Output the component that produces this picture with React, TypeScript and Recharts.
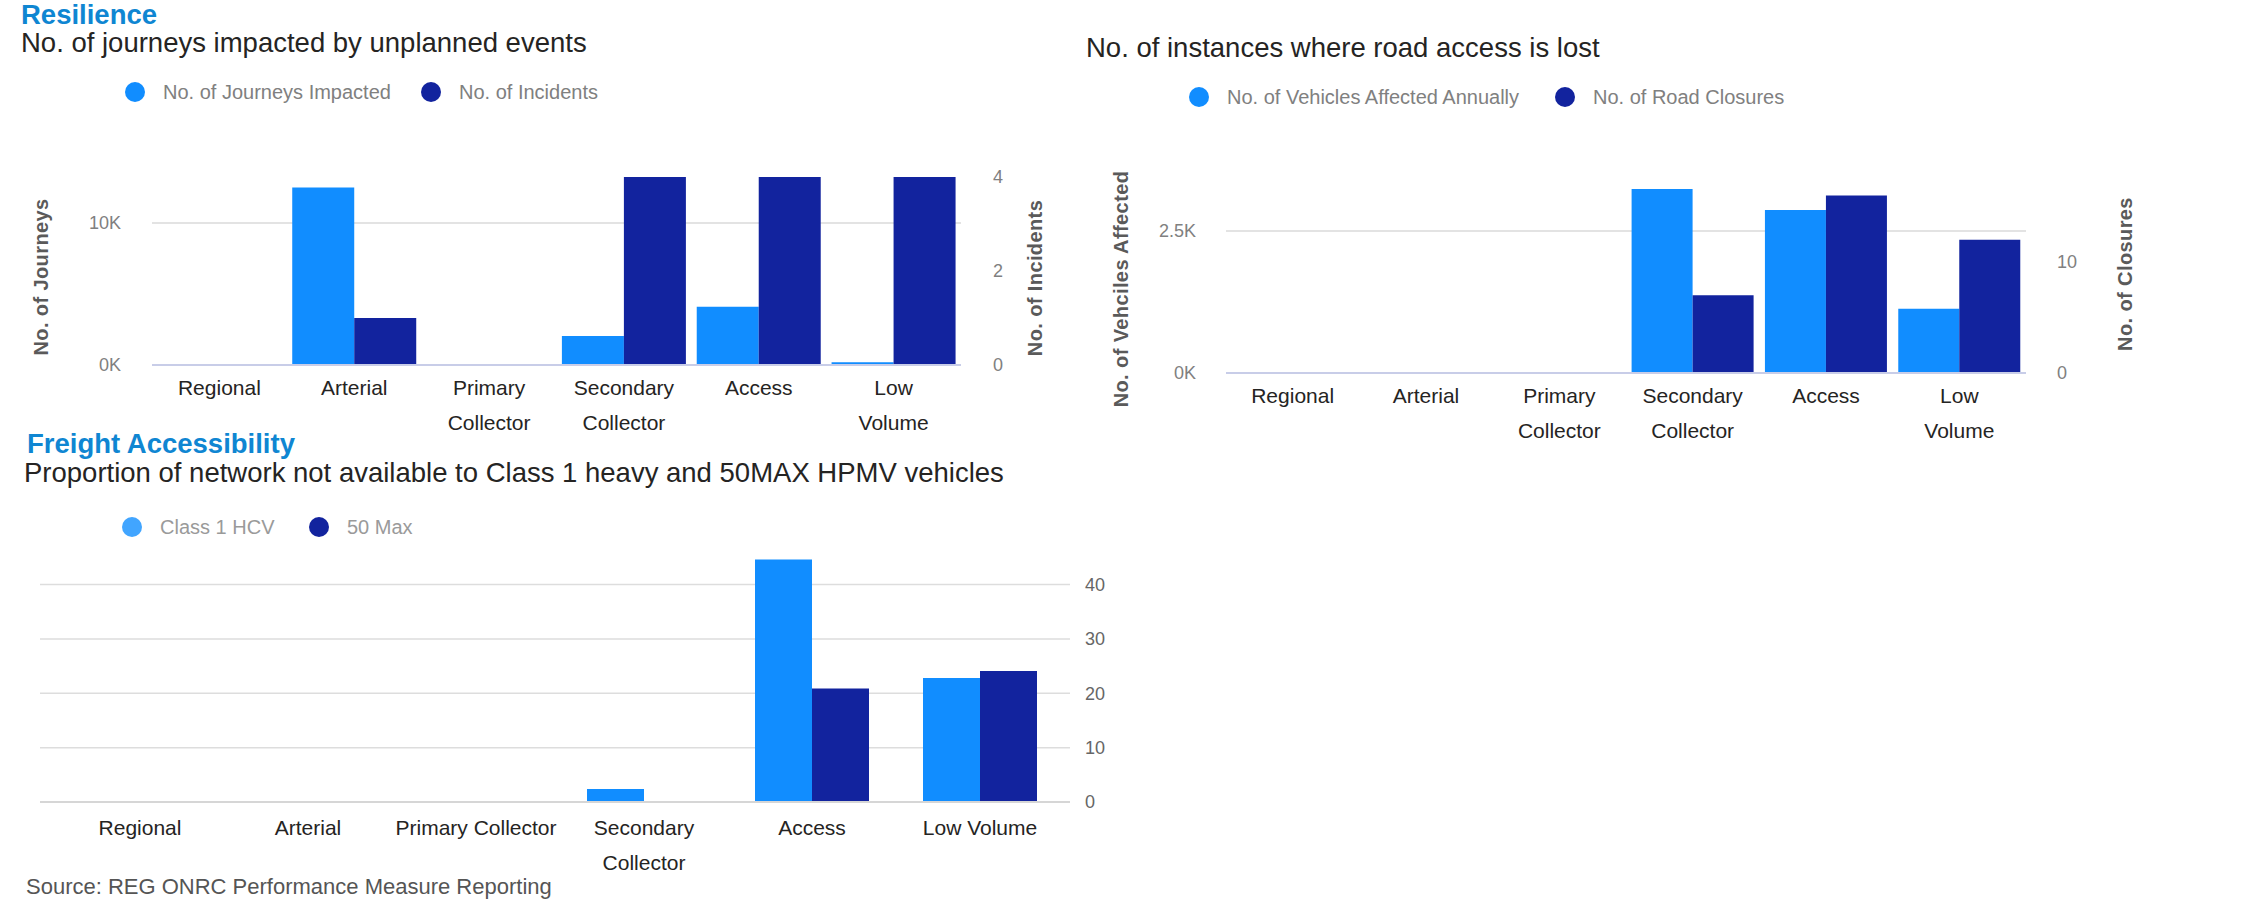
import React from 'react';
import { BarChart, Bar, XAxis, YAxis, CartesianGrid } from 'recharts';

// road classes shared by all three charts
const categories = ['Regional', 'Arterial', 'Primary Collector', 'Secondary Collector', 'Access', 'Low Volume'];

// Resilience: journeys impacted (left axis) / incidents (right axis)
const journeysImpacted = [0, 12500, 0, 2050, 4100, 200];
const incidentCounts = [0, 1, 0, 4, 4, 4];

// Road access lost: vehicles affected (left) / road closures (right)
const vehiclesAffected = [0, 0, 0, 3240, 2870, 1130];
const roadClosures = [0, 0, 0, 7, 16, 12];

// Freight accessibility (% of network)
const class1Hcv = [0, 0, 0, 2.4, 44.6, 22.8];
const max50 = [0, 0, 0, 0, 20.9, 24.1];

const journeyTicks = [0, 10000];
const incidentTicks = [0, 2, 4];
const vehicleTicks = [0, 2500];
const closureTicks = [0, 10];
const freightTicks = [0, 10, 20, 30, 40];

const journeyMax = 13240;
const vehicleMax = 3310;
const freightMax = 46;

const FONT = '"Liberation Sans", Arial, sans-serif';
const LIGHT = '#118DFF';
const DARK = '#12239E';
const TITLE_BLUE = '#0F86D2';

const resilienceData = categories.map((name, i) => ({
  name,
  journeys: journeysImpacted[i],
  incidents: incidentCounts[i],
}));
const accessData = categories.map((name, i) => ({
  name,
  vehicles: vehiclesAffected[i],
  closures: roadClosures[i],
}));
const freightData = categories.map((name, i) => ({
  name,
  hcv: class1Hcv[i],
  max50: max50[i],
}));

const kFormat = (v: number) => (v === 0 ? '0K' : `${v / 1000}K`);

const splitWords = (s: string) => s.split(' ');
const splitLong = (s: string) => (s.length > 17 ? s.split(' ') : [s]);

// grid lines only at the given tick values (no line at the top of the plot)
const gridAt = (ticks: number[], max: number) => (props: any) => {
  const s = props.yAxis && props.yAxis.scale;
  if (typeof s === 'function') return ticks.map((t) => s(t));
  const { top, height } = props.offset;
  return ticks.map((t) => top + height * (1 - t / max));
};

const makeTick = (offset: number, wrap: (s: string) => string[]) => (props: any) => {
  const { x, y, payload } = props;
  const lines = wrap(String(payload.value));
  return (
    <text x={x} y={y + offset} textAnchor="middle" fontSize={21} fill="#252423" fontFamily={FONT}>
      {lines.map((l, i) => (
        <tspan key={l} x={x} dy={i === 0 ? 0 : 35}>
          {l}
        </tspan>
      ))}
    </text>
  );
};

const yTick = { fill: '#808080', fontSize: 18 };

type LegendEntry = { cx: number; cy: number; color: string; label: string };

const LegendRow = ({ items, textColor }: { items: LegendEntry[]; textColor: string }) => (
  <g>
    {items.map((it) => (
      <g key={it.label}>
        <circle cx={it.cx} cy={it.cy} r={10} fill={it.color} />
        <text x={it.cx + 28} y={it.cy + 7} fontSize={20} fill={textColor}>
          {it.label}
        </text>
      </g>
    ))}
  </g>
);

const AxisTitle = ({ x, y, text }: { x: number; y: number; text: string }) => (
  <text
    x={x}
    y={y}
    transform={`rotate(-90 ${x} ${y})`}
    textAnchor="middle"
    fontSize={20}
    fontWeight="bold"
    letterSpacing={0.4}
    fill="#5a5a5a"
  >
    {text}
  </text>
);

export default function App() {
  return (
    <div
      style={{
        position: 'absolute',
        left: 0,
        top: 0,
        width: 2244,
        height: 905,
        background: '#ffffff',
        fontFamily: FONT,
      }}
    >
      <svg width={2244} height={905} style={{ position: 'absolute', left: 0, top: 0 }} fontFamily={FONT}>
        {/* chart 1 headings */}
        <text x={21} y={24} fontSize={27.5} fontWeight="bold" fill={TITLE_BLUE}>
          Resilience
        </text>
        <text x={21} y={52} fontSize={27.5} fill="#252423">
          No. of journeys impacted by unplanned events
        </text>
        <LegendRow
          textColor="#808080"
          items={[
            { cx: 135, cy: 92, color: LIGHT, label: 'No. of Journeys Impacted' },
            { cx: 431, cy: 92, color: DARK, label: 'No. of Incidents' },
          ]}
        />
        <AxisTitle x={48} y={277} text="No. of Journeys" />
        <AxisTitle x={1042} y={278} text="No. of Incidents" />

        {/* chart 2 headings */}
        <text x={1086} y={57} fontSize={27.5} fill="#252423">
          No. of instances where road access is lost
        </text>
        <LegendRow
          textColor="#808080"
          items={[
            { cx: 1199, cy: 97, color: LIGHT, label: 'No. of Vehicles Affected Annually' },
            { cx: 1565, cy: 97, color: DARK, label: 'No. of Road Closures' },
          ]}
        />
        <AxisTitle x={1128} y={289} text="No. of Vehciles Affected" />
        <AxisTitle x={2132} y={274} text="No. of Closures" />

        {/* chart 3 headings */}
        <text x={27} y={453} fontSize={27.5} fontWeight="bold" fill={TITLE_BLUE}>
          Freight Accessibility
        </text>
        <text x={24} y={482} fontSize={27.5} fill="#252423">
          Proportion of network not available to Class 1 heavy and 50MAX HPMV vehicles
        </text>
        <LegendRow
          textColor="#9a9a9a"
          items={[
            { cx: 132, cy: 527, color: '#41A5FF', label: 'Class 1 HCV' },
            { cx: 319, cy: 527, color: DARK, label: '50 Max' },
          ]}
        />
        <text x={26} y={894} fontSize={22} fill="#555555">
          Source: REG ONRC Performance Measure Reporting
        </text>
      </svg>

      <div style={{ position: 'absolute', left: 0, top: 150 }}>
        <BarChart
          width={1080}
          height={300}
          data={resilienceData}
          margin={{ top: 27, right: 39, bottom: 25, left: 0 }}
          barCategoryGap={5.4}
          barGap={0}
        >
          <CartesianGrid
            yAxisId="left"
            vertical={false}
            stroke="#e3e3e3"
            strokeWidth={2}
            horizontalCoordinatesGenerator={gridAt(journeyTicks, journeyMax)}
          />
          <XAxis
            dataKey="name"
            interval={0}
            height={60}
            tickLine={false}
            tickSize={0}
            tickMargin={0}
            axisLine={{ stroke: '#c8cde8', strokeWidth: 2 }}
            tick={makeTick(30, splitWords)}
          />
          <YAxis
            yAxisId="left"
            width={152}
            domain={[0, journeyMax]}
            ticks={journeyTicks}
            tickFormatter={kFormat}
            axisLine={false}
            tickLine={false}
            tickSize={0}
            tickMargin={31}
            tick={yTick}
          />
          <YAxis
            yAxisId="right"
            orientation="right"
            width={80}
            domain={[0, 4]}
            ticks={incidentTicks}
            axisLine={false}
            tickLine={false}
            tickSize={0}
            tickMargin={32}
            tick={yTick}
          />
          <Bar yAxisId="left" dataKey="journeys" name="No. of Journeys Impacted" fill={LIGHT} isAnimationActive={false} />
          <Bar yAxisId="right" dataKey="incidents" name="No. of Incidents" fill={DARK} isAnimationActive={false} />
        </BarChart>
      </div>

      <div style={{ position: 'absolute', left: 1080, top: 150 }}>
        <BarChart
          width={1164}
          height={310}
          data={accessData}
          margin={{ top: 35, right: 138, bottom: 27, left: 0 }}
          barCategoryGap={5.6}
          barGap={0}
        >
          <CartesianGrid
            yAxisId="left"
            vertical={false}
            stroke="#e3e3e3"
            strokeWidth={2}
            horizontalCoordinatesGenerator={gridAt(vehicleTicks, vehicleMax)}
          />
          <XAxis
            dataKey="name"
            interval={0}
            height={60}
            tickLine={false}
            tickSize={0}
            tickMargin={0}
            axisLine={{ stroke: '#c8cde8', strokeWidth: 2 }}
            tick={makeTick(30, splitWords)}
          />
          <YAxis
            yAxisId="left"
            width={146}
            domain={[0, vehicleMax]}
            ticks={vehicleTicks}
            tickFormatter={kFormat}
            axisLine={false}
            tickLine={false}
            tickSize={0}
            tickMargin={30}
            tick={yTick}
          />
          <YAxis
            yAxisId="right"
            orientation="right"
            width={80}
            domain={[0, 16.94]}
            ticks={closureTicks}
            axisLine={false}
            tickLine={false}
            tickSize={0}
            tickMargin={31}
            tick={yTick}
          />
          <Bar yAxisId="left" dataKey="vehicles" name="No. of Vehicles Affected Annually" fill={LIGHT} isAnimationActive={false} />
          <Bar yAxisId="right" dataKey="closures" name="No. of Road Closures" fill={DARK} isAnimationActive={false} />
        </BarChart>
      </div>

      <div style={{ position: 'absolute', left: 0, top: 520 }}>
        <BarChart
          width={1130}
          height={370}
          data={freightData}
          margin={{ top: 32, right: 0, bottom: 28, left: 40 }}
          barCategoryGap={27}
          barGap={0}
        >
          <CartesianGrid
            vertical={false}
            stroke="#dddddd"
            strokeWidth={1.5}
            horizontalCoordinatesGenerator={gridAt(freightTicks, freightMax)}
          />
          <XAxis
            dataKey="name"
            interval={0}
            height={60}
            padding={{ left: 16, right: 6 }}
            tickLine={false}
            tickSize={0}
            tickMargin={0}
            axisLine={{ stroke: '#d6d6d6', strokeWidth: 2 }}
            tick={makeTick(33, splitLong)}
          />
          <YAxis
            orientation="right"
            width={60}
            domain={[0, freightMax]}
            ticks={freightTicks}
            axisLine={false}
            tickLine={false}
            tickSize={0}
            tickMargin={15}
            tick={{ fill: '#666666', fontSize: 18 }}
          />
          <Bar dataKey="hcv" name="Class 1 HCV" fill={LIGHT} isAnimationActive={false} />
          <Bar dataKey="max50" name="50 Max" fill={DARK} isAnimationActive={false} />
        </BarChart>
      </div>
    </div>
  );
}
